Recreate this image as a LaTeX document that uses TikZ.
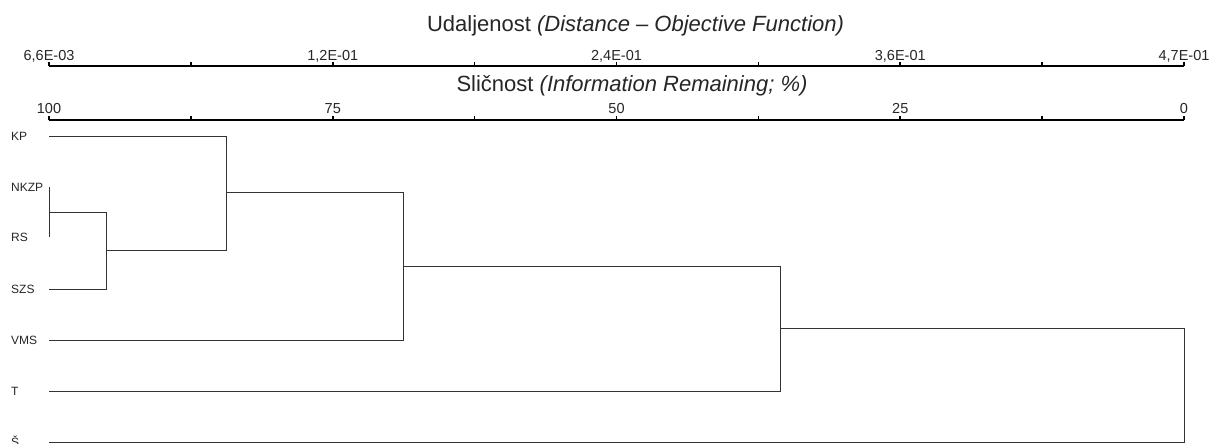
\documentclass[tikz,border=0pt]{standalone}
\usepackage{fontspec}
\setmainfont{Liberation Sans}
\begin{document}
\begin{tikzpicture}[x=1pt,y=-1pt,
  axisline/.style={line width=2pt,black},
  ticksty/.style={line width=1.6pt,black},
  link/.style={line width=1pt,black!80},
  ticklabel/.style={anchor=base,inner sep=0pt,font=\fontsize{14.5}{16}\selectfont,text=black!85},
  axtitle/.style={anchor=base,inner sep=0pt,font=\fontsize{22}{24}\selectfont,text=black!85},
  leaf/.style={anchor=base west,inner sep=0pt,font=\fontsize{12}{14}\selectfont,text=black!85}]
\clip (0,0) rectangle (1210,444);
\fill[white] (0,0) rectangle (1210,444);
% axes
\node[axtitle] (t1) at (635.5,32) {Udaljenost \textit{(Distance -- Objective Function)}};
\node[axtitle] (t2) at (632,92) {Sličnost \textit{(Information Remaining; \%)}};
\draw[axisline] (49,66) coordinate (a1l) -- (1184,66) coordinate (a1r);
\draw[axisline] (49,120) coordinate (a2l) -- (1184,120) coordinate (a2r);
\foreach \k in {0,...,8}{
  \draw[ticksty] ({49+\k*141.875},66) -- ++(0,-4);
  \draw[ticksty] ({49+\k*141.875},120) -- ++(0,-4);
}
\foreach \k/\d/\s in {0/{6,6E-03}/100,2/{1,2E-01}/75,4/{2,4E-01}/50,6/{3,6E-01}/25,8/{4,7E-01}/0}{
  \node[ticklabel] (d\k) at ({49+\k*141.875},60) {\d};
  \node[ticklabel] (s\k) at ({49+\k*141.875},113) {\s};
}
% leaves
\node[leaf] (lKP) at (11,140.3) {KP};
\node[leaf] (lNKZP) at (11,191.3) {NKZP};
\node[leaf] (lRS) at (11,241.3) {RS};
\node[leaf] (lSZS) at (11,293.3) {SZS};
\node[leaf] (lVMS) at (11,344.3) {VMS};
\node[leaf] (lT) at (11,395.3) {T};
\node[leaf] (lSH) at (11,446) {Š};
\coordinate (kp) at (49,136);
\coordinate (nk) at (49,187);
\coordinate (rs) at (49,237);
\coordinate (szs) at (49,289);
\coordinate (vms) at (49,340);
\coordinate (t) at (49,391);
\coordinate (sh) at (49,442);
\coordinate (j1) at (49,212);
\coordinate (j2) at (106,250);
\coordinate (j3) at (226,192);
\coordinate (j4) at (403,266);
\coordinate (j5) at (780,328.5);
\coordinate (j6) at (1184,385);
\draw[link] (nk) -- (rs);
\draw[link] (j1) -| (j2);
\draw[link] (szs) -| (j2);
\draw[link] (kp) -| (j3);
\draw[link] (j2) -| (j3);
\draw[link] (j3) -| (j4);
\draw[link] (vms) -| (j4);
\draw[link] (j4) -| (j5);
\draw[link] (t) -| (j5);
\draw[link] (j5) -| (j6);
\draw[link] (sh) -| (j6);
\end{tikzpicture}
\end{document}
